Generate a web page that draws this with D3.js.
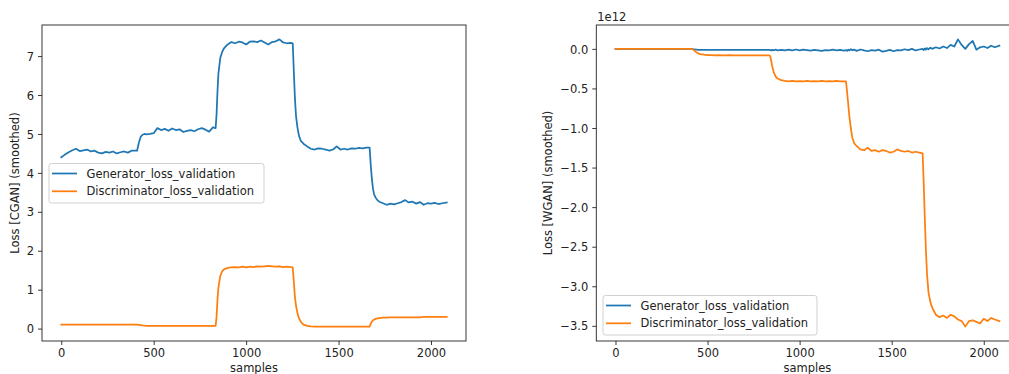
<!DOCTYPE html>
<html>
<head>
<meta charset="utf-8">
<script src="https://cdn.jsdelivr.net/npm/d3@7"></script>
<style>
  html, body { margin: 0; padding: 0; background: #fff; overflow: hidden; }
  svg { display: block; font-family: "DejaVu Sans", sans-serif; }
</style>
</head>
<body>
<svg id="fig" width="1009" height="374"></svg>
<script>
// Training sample index shared by all four smoothed loss curves
const samples = [
  0,20,40,60,80,100,120,140,160,180,200,220,240,260,280,300,320,340,360,380,400,
  410,420,430,440,450,460,480,500,520,540,560,580,600,620,640,660,680,700,720,740,760,780,800,820,
  835,840,845,850,860,870,880,900,920,940,960,980,1000,1020,1040,1060,1080,1100,1120,1140,1160,1180,1200,1220,1240,
  1252,1258,1264,1270,1278,1286,1296,1310,1330,1350,1370,1390,1410,1430,1450,1470,1490,1510,1530,1550,1570,1590,1610,1630,1650,
  1668,1674,1680,1686,1692,1700,1710,1720,1740,1760,1780,1800,1820,1840,1860,1880,1900,1920,1940,1960,1980,2000,2020,2040,2060,2085
];

// CGAN validation losses
const cganGenerator = [
  4.40,4.47,4.53,4.58,4.62,4.56,4.58,4.60,4.55,4.57,4.52,4.50,4.54,4.52,4.55,4.50,4.53,4.55,4.52,4.57,4.57,
  4.57,4.78,4.93,4.98,5.00,4.99,5.00,5.02,5.15,5.10,5.13,5.08,5.14,5.10,5.12,5.05,5.08,5.10,5.07,5.12,5.15,5.11,5.06,5.17,
  5.15,5.50,6.10,6.55,6.95,7.10,7.20,7.30,7.36,7.33,7.37,7.35,7.30,7.37,7.38,7.36,7.40,7.35,7.30,7.36,7.38,7.43,7.35,7.33,7.34,
  7.33,6.60,5.90,5.45,5.15,4.95,4.82,4.75,4.68,4.62,4.60,4.63,4.62,4.60,4.57,4.60,4.68,4.60,4.62,4.60,4.63,4.62,4.64,4.63,4.65,
  4.65,4.20,3.85,3.60,3.45,3.37,3.30,3.26,3.22,3.18,3.21,3.19,3.22,3.25,3.30,3.24,3.26,3.21,3.25,3.18,3.22,3.21,3.23,3.20,3.22,3.24
];
const cganDiscriminator = [
  0.10,0.10,0.10,0.10,0.10,0.10,0.10,0.10,0.10,0.10,0.10,0.10,0.10,0.10,0.10,0.10,0.10,0.10,0.10,0.10,0.10,
  0.10,0.095,0.09,0.08,0.075,0.07,0.07,0.07,0.07,0.07,0.07,0.07,0.07,0.07,0.07,0.07,0.07,0.07,0.07,0.07,0.07,0.07,0.07,0.07,
  0.07,0.30,0.75,1.05,1.35,1.47,1.52,1.56,1.57,1.58,1.57,1.59,1.57,1.59,1.58,1.60,1.59,1.60,1.61,1.60,1.59,1.60,1.58,1.59,1.58,
  1.57,1.20,0.80,0.58,0.39,0.26,0.17,0.10,0.07,0.055,0.05,0.05,0.05,0.05,0.05,0.05,0.05,0.05,0.05,0.05,0.05,0.05,0.05,0.05,0.05,
  0.05,0.12,0.18,0.21,0.23,0.25,0.26,0.27,0.28,0.28,0.29,0.29,0.29,0.29,0.29,0.29,0.29,0.29,0.29,0.30,0.30,0.30,0.30,0.30,0.30,0.30
];

// WGAN validation losses (units of 1e12)
const wganGenerator = [
  0,0,0,0,0,0,0,0,0,0,0,0,0,0,0,0,0,0,0,0,0,
  0,-0.003,-0.008,-0.01,-0.012,-0.012,-0.012,-0.013,-0.012,-0.014,-0.012,-0.013,-0.012,-0.014,-0.012,-0.013,-0.012,-0.013,-0.014,-0.012,-0.013,-0.012,-0.013,-0.012,
  -0.012,-0.015,-0.02,-0.012,-0.018,-0.01,-0.02,-0.012,-0.02,-0.01,-0.018,-0.008,-0.02,-0.01,-0.015,-0.022,-0.012,-0.018,-0.025,-0.015,-0.02,-0.01,-0.018,-0.012,-0.022,
  -0.015,-0.025,-0.01,-0.02,-0.005,-0.018,-0.01,-0.025,-0.008,-0.02,-0.03,-0.015,-0.022,-0.01,-0.035,-0.025,-0.012,-0.03,-0.015,-0.02,-0.005,-0.015,0.0,-0.02,-0.008,
  0.0,-0.015,0.005,-0.01,0.01,-0.005,0.015,0.0,0.02,0.005,0.03,0.01,0.05,0.03,0.12,0.05,0.0,0.06,0.10,-0.01,0.02,0.03,0.01,0.04,0.02,0.04
];
const wganDiscriminator = [
  0,0,0,0,0,0,0,0,0,0,0,0,0,0,0,0,0,0,0,0,0,
  0,-0.005,-0.025,-0.045,-0.058,-0.066,-0.074,-0.078,-0.080,-0.081,-0.080,-0.082,-0.081,-0.080,-0.082,-0.081,-0.082,-0.081,-0.082,-0.081,-0.082,-0.082,-0.081,-0.082,
  -0.082,-0.09,-0.14,-0.21,-0.30,-0.35,-0.375,-0.395,-0.405,-0.41,-0.405,-0.412,-0.408,-0.41,-0.405,-0.412,-0.408,-0.41,-0.405,-0.41,-0.408,-0.412,-0.405,-0.41,-0.41,
  -0.41,-0.55,-0.70,-0.85,-1.00,-1.12,-1.19,-1.23,-1.27,-1.28,-1.25,-1.29,-1.28,-1.30,-1.28,-1.29,-1.31,-1.30,-1.27,-1.29,-1.30,-1.29,-1.31,-1.30,-1.31,
  -1.32,-1.70,-2.15,-2.55,-2.85,-3.08,-3.20,-3.27,-3.36,-3.39,-3.37,-3.40,-3.36,-3.38,-3.42,-3.44,-3.51,-3.44,-3.43,-3.45,-3.47,-3.41,-3.44,-3.40,-3.42,-3.44
];

const seriesNames = ["Generator_loss_validation", "Discriminator_loss_validation"];
const seriesColors = ["#1f77b4", "#ff7f0e"];

const xTicks = [0, 500, 1000, 1500, 2000];
const cganTicks = [0, 1, 2, 3, 4, 5, 6, 7];
const wganTicks = [0.0, -0.5, -1.0, -1.5, -2.0, -2.5, -3.0, -3.5];

const FONT = 11.5;
const svg = d3.select("#fig");

function paddedExtent(arrays) {
  const all = arrays.flat();
  const [lo, hi] = d3.extent(all);
  const pad = (hi - lo) * 0.05;
  return [lo - pad, hi + pad];
}

function drawPanel(opt) {
  const { left, right, top, bottom } = opt.box;
  const g = svg.append("g");

  const x = d3.scaleLinear().domain(paddedExtent([samples])).range([left, right]);
  const y = d3.scaleLinear().domain(paddedExtent(opt.series)).range([bottom, top]);

  // lines
  const line = d3.line().x((d, i) => x(samples[i])).y(d => y(d));
  opt.series.forEach((vals, k) => {
    g.append("path")
      .datum(vals)
      .attr("d", line)
      .attr("fill", "none")
      .attr("stroke", seriesColors[k])
      .attr("stroke-width", 1.75)
      .attr("stroke-linejoin", "round")
      .attr("stroke-linecap", "square");
  });

  // x axis
  const xa = g.append("g").attr("transform", `translate(0,${bottom})`)
    .call(d3.axisBottom(x).tickValues(xTicks).tickSize(4).tickPadding(4).tickFormat(d3.format("d")));
  xa.select(".domain").remove();
  xa.selectAll("line").attr("stroke", "#222").attr("stroke-width", 0.9);
  xa.selectAll("text").attr("font-size", FONT).attr("fill", "#222")
    .attr("font-family", "DejaVu Sans").attr("y", 8).attr("dy", "0.71em");

  // y axis
  const ya = g.append("g").attr("transform", `translate(${left},0)`)
    .call(d3.axisLeft(y).tickValues(opt.yTicks).tickSize(4).tickPadding(4).tickFormat(opt.yFormat));
  ya.select(".domain").remove();
  ya.selectAll("line").attr("stroke", "#222").attr("stroke-width", 0.9);
  ya.selectAll("text").attr("font-size", FONT).attr("fill", "#222")
    .attr("font-family", "DejaVu Sans").attr("dy", "0.36em");

  // frame
  g.append("rect")
    .attr("x", left).attr("y", top)
    .attr("width", right - left).attr("height", bottom - top)
    .attr("fill", "none").attr("stroke", "#222").attr("stroke-width", 0.9);

  // axis labels
  g.append("text")
    .attr("x", (left + right) / 2).attr("y", 372)
    .attr("text-anchor", "middle").attr("font-size", FONT).attr("fill", "#222")
    .text("samples");
  g.append("text")
    .attr("transform", `translate(${opt.yLabelX},183) rotate(-90)`)
    .attr("text-anchor", "middle").attr("font-size", FONT).attr("fill", "#222")
    .text(opt.yLabel);

  if (opt.offsetText) {
    g.append("text")
      .attr("x", left + 1).attr("y", 21)
      .attr("font-size", FONT).attr("fill", "#222")
      .text(opt.offsetText);
  }

  // legend
  const L = opt.legend;
  const lg = g.append("g").attr("transform", `translate(${L.x},${L.y})`);
  lg.append("rect")
    .attr("x", 0.5).attr("y", 0.5).attr("width", L.w).attr("height", 39.5)
    .attr("rx", 2.5).attr("fill", "rgba(255,255,255,0.8)")
    .attr("stroke", "#cccccc").attr("stroke-width", 0.9);
  seriesNames.forEach((name, k) => {
    const cy = 10.5 + k * 17.8;
    lg.append("line")
      .attr("x1", 3.5).attr("x2", 28.5).attr("y1", cy).attr("y2", cy)
      .attr("stroke", seriesColors[k]).attr("stroke-width", 1.75);
    lg.append("text")
      .attr("x", 38).attr("y", cy).attr("dy", "0.36em")
      .attr("font-size", FONT).attr("fill", "#222")
      .text(name);
  });
}

drawPanel({
  box: { left: 42, right: 466, top: 25, bottom: 341 },
  series: [cganGenerator, cganDiscriminator],
  yTicks: cganTicks,
  yFormat: d3.format("d"),
  yLabel: "Loss [CGAN] (smoothed)",
  yLabelX: 18.5,
  legend: { x: 48.5, y: 163, w: 215 }
});

drawPanel({
  box: { left: 596.3, right: 1018.6, top: 25, bottom: 341 },
  series: [wganGenerator, wganDiscriminator],
  yTicks: wganTicks,
  yFormat: d => d3.format(".1f")(d).replace("-", "\u2212"),
  yLabel: "Loss [WGAN] (smoothed)",
  yLabelX: 552,
  offsetText: "1e12",
  legend: { x: 602.5, y: 295, w: 214 }
});
</script>
</body>
</html>
